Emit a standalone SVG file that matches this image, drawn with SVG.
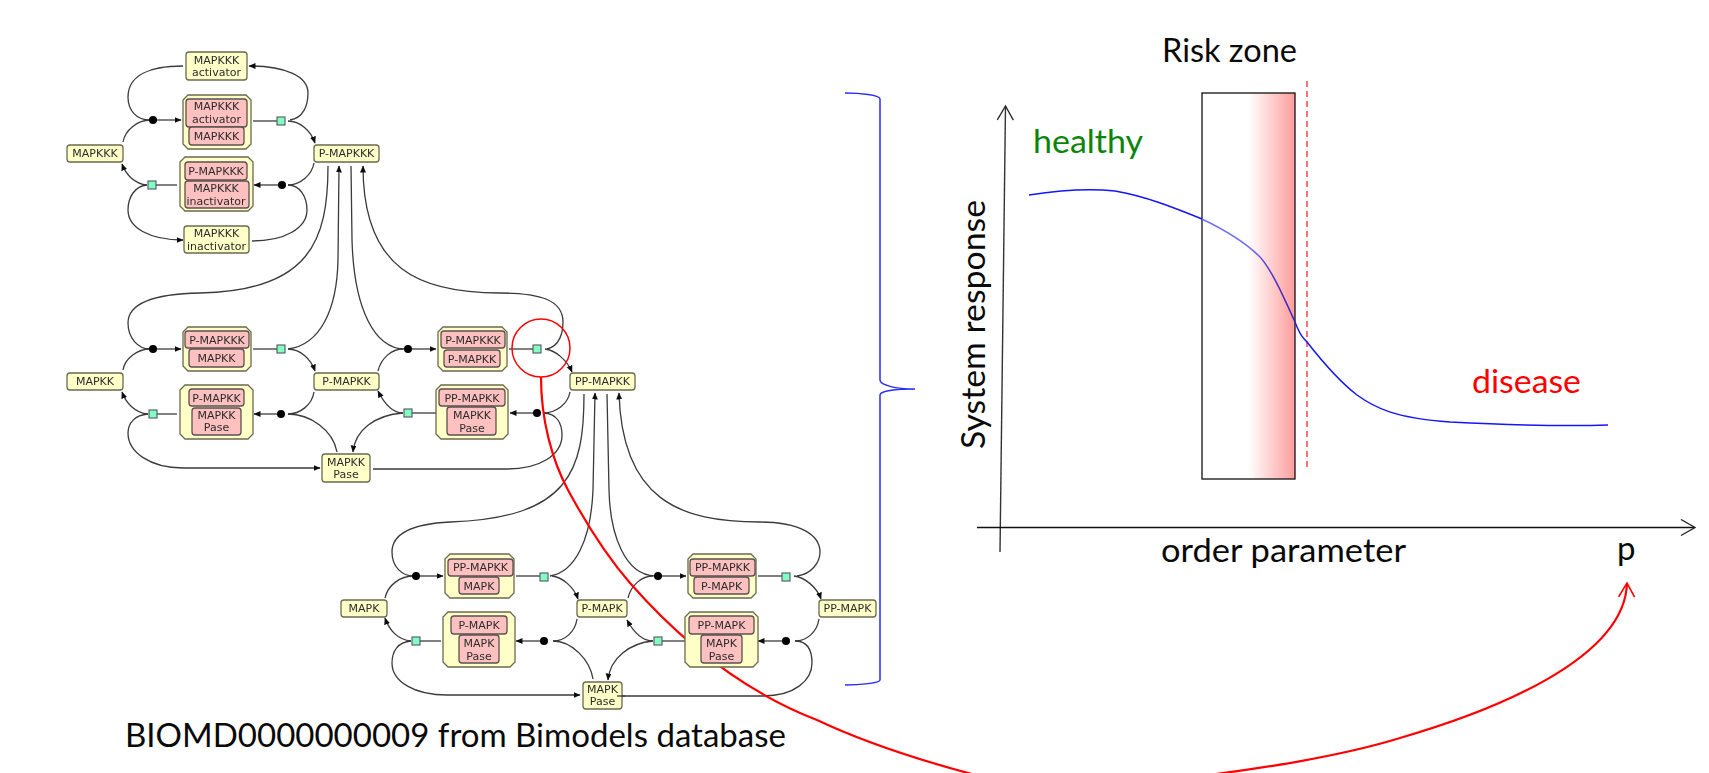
<svg xmlns="http://www.w3.org/2000/svg" width="1709" height="773" viewBox="0 0 1709 773">
<style>
.c{fill:none;stroke:#3a3a3a;stroke-width:1.3}
.a{marker-end:url(#ah)}
.n{fill:#ffffc8;stroke:#6a6a50;stroke-width:1.3}
.i{fill:#ffc0c0;stroke:#5a5050;stroke-width:1.3}
.s{fill:#80ffc0;stroke:#556;stroke-width:1.1}
.d{fill:#000}
.t{font-family:"DejaVu Sans",sans-serif;font-size:11px;fill:#2c2c2c;text-anchor:middle}
.b{font-family:Lato,"Open Sans",sans-serif;font-size:33px;fill:#0a0a0a}
</style>
<defs>
<marker id="ah" markerUnits="userSpaceOnUse" markerWidth="8" markerHeight="8" refX="6.5" refY="3" orient="auto"><path d="M0,0L7,3L0,6z" fill="#111"/></marker>
<marker id="oa" markerUnits="userSpaceOnUse" markerWidth="18" markerHeight="20" refX="15" refY="9" orient="auto"><path d="M1,1L15,9L1,17" fill="none" stroke="#222" stroke-width="1.3"/></marker>
<marker id="ra" markerUnits="userSpaceOnUse" markerWidth="18" markerHeight="20" refX="15" refY="9" orient="auto"><path d="M1,1L15,9L1,17" fill="none" stroke="#f00" stroke-width="1.6"/></marker>
<linearGradient id="rz" x1="0" x2="1" y1="0" y2="0"><stop offset="0" stop-color="#fff"/><stop offset=".5" stop-color="#fff"/><stop offset="1" stop-color="#ff9c9c"/></linearGradient>
<linearGradient id="bc" gradientUnits="userSpaceOnUse" x1="1029" x2="1608" y1="0" y2="0"><stop offset=".298" stop-color="#1414ff"/><stop offset=".3" stop-color="#7070ff"/><stop offset=".38" stop-color="#7070ff"/><stop offset=".425" stop-color="#5030c0"/><stop offset=".458" stop-color="#3020c0"/><stop offset=".48" stop-color="#1414ff"/></linearGradient>
<filter id="soft" x="-2%" y="-2%" width="104%" height="104%"><feGaussianBlur stdDeviation="0.35"/></filter>
</defs>

<g id="connectors" filter="url(#soft)">
<!-- block 1 -->
<path class="c" d="M183,66C150,66 128,75 128,97C128,110 136,120 150,120"/>
<path class="c" d="M123,142C125,130 138,120 150,120"/>
<path class="c a" d="M153,120H181"/>
<path class="c" d="M253,121H281"/>
<path class="c a" d="M288,121C300,121 311,131 315,143"/>
<path class="c a" d="M290,120C303,118 308,106 308,93C308,76 285,66 249,66"/>
<path class="c" d="M314,163C312,175 300,185 288,185"/>
<path class="c a" d="M282,185H254"/>
<path class="c" d="M252,241C285,241 307,228 307,210C307,197 300,185 288,185"/>
<path class="c" d="M177,185H152"/>
<path class="c a" d="M147,185C135,184 126,175 122,164"/>
<path class="c a" d="M147,185C135,186 128,197 128,210C128,228 150,240 183,240"/>
<!-- block 2 -->
<path class="c" d="M328,166C328,240 310,291 200,293C150,294 128,305 128,323C128,338 138,349 150,349"/>
<path class="c a" d="M288,349C320,345 337,310 338,260L339,166"/>
<path class="c" d="M351,166L352,240C354,310 375,349 405,349"/>
<path class="c a" d="M547,349C560,346 563,332 563,322C563,300 540,293 500,293C420,293 363,270 363,166"/>
<path class="c" d="M123,370C125,358 138,349 150,349"/>
<path class="c a" d="M153,349H181"/>
<path class="c" d="M253,349H281"/>
<path class="c a" d="M288,349C300,349 311,359 315,371"/>
<path class="c" d="M314,392C312,405 300,414 288,414"/>
<path class="c a" d="M281,414H254"/>
<path class="c" d="M337,452C333,430 310,414 288,414"/>
<path class="c" d="M177,414H153"/>
<path class="c a" d="M148,414C135,413 126,403 122,392"/>
<path class="c a" d="M148,414C135,415 128,423 128,433C128,452 150,468 183,468L320,468"/>
<path class="c" d="M378,371C381,358 392,349 403,349"/>
<path class="c a" d="M408,349H436"/>
<path class="c" d="M509,349H537"/>
<path class="c a" d="M545,349C555,350 567,360 572,372"/>
<path class="c" d="M570,392C568,404 556,413 543,413"/>
<path class="c a" d="M537,413H510"/>
<path class="c" d="M373,469H507C540,469 562,455 562,435C562,425 558,413 543,413"/>
<path class="c" d="M436,413H408"/>
<path class="c a" d="M403,413C392,413 384,403 378,391"/>
<path class="c a" d="M403,413C375,415 355,430 353,452"/>
<!-- block 3 -->
<path class="c" d="M584,394C584,470 570,518 450,522C410,524 392,535 392,552C392,567 402,576 414,576"/>
<path class="c a" d="M550,576C575,572 591,540 593,490L595,393"/>
<path class="c" d="M607,394L609,490C610,535 625,575 655,576"/>
<path class="c a" d="M797,576C812,574 820,562 820,552C820,535 800,522 760,522C680,522 622,500 619,393"/>
<path class="c" d="M385,598C388,585 400,576 414,576"/>
<path class="c a" d="M416,576H443"/>
<path class="c" d="M516,576H544"/>
<path class="c a" d="M552,576C562,577 574,587 578,599"/>
<path class="c" d="M577,619C575,632 565,641 553,641"/>
<path class="c a" d="M544,641H516"/>
<path class="c" d="M593,679C590,660 572,641 553,641"/>
<path class="c" d="M441,641H416"/>
<path class="c a" d="M411,641C398,640 389,630 385,618"/>
<path class="c a" d="M411,641C398,642 392,651 392,663C392,682 415,695 447,695L580,695"/>
<path class="c" d="M628,598C631,585 642,576 653,576"/>
<path class="c a" d="M658,576H686"/>
<path class="c" d="M758,576H786"/>
<path class="c a" d="M794,576C804,577 817,587 821,599"/>
<path class="c" d="M819,619C817,632 807,641 795,641"/>
<path class="c a" d="M786,641H758"/>
<path class="c" d="M617,696H763C795,696 812,680 812,663C812,650 807,641 795,641"/>
<path class="c" d="M685,641H658"/>
<path class="c a" d="M653,641C642,641 633,631 627,620"/>
<path class="c a" d="M653,641C630,643 610,658 608,680"/>
</g>

<path id="red-curve" d="M541,377C541,420 552,460 568,490C588,527 610,560 630,583C680,640 740,690 817,720C870,745 935,765 995,780C1060,797 1290,772 1400,738C1490,712 1625,660 1627,583" fill="none" stroke="#f00" stroke-width="2.2" marker-end="url(#ra)"/>

<g filter="url(#soft)">
<g id="n-activator"><rect class="n" x="186" y="52" width="61" height="28" rx="3"/><text class="t" x="216.500" y="64">MAPKKK</text><text class="t" x="216.500" y="76">activator</text></g>
<g id="c-1"><polygon class="n" points="188,95 246,95 251,100 251,144 246,149 188,149 183,144 183,100"/><rect class="i" x="186" y="99" width="61" height="28" rx="3"/><rect class="i" x="189" y="127" width="55" height="18" rx="3"/><text class="t" x="216.500" y="110">MAPKKK</text><text class="t" x="216.500" y="123">activator</text><text class="t" x="216.500" y="140">MAPKKK</text></g>
<g id="n-mapkkk"><rect class="n" x="67" y="145" width="56" height="17" rx="3"/><text class="t" x="95" y="157">MAPKKK</text></g>
<g id="n-pmapkkk"><rect class="n" x="314" y="145" width="65" height="17" rx="3"/><text class="t" x="346.500" y="157">P-MAPKKK</text></g>
<g id="c-2"><polygon class="n" points="185,157 248,157 253,162 253,206 248,211 185,211 180,206 180,162"/><rect class="i" x="185" y="162" width="62" height="18" rx="3"/><rect class="i" x="185" y="181" width="64" height="27" rx="3"/><text class="t" x="216" y="175">P-MAPKKK</text><text class="t" x="216" y="192">MAPKKK</text><text class="t" x="216" y="205">inactivator</text></g>
<g id="n-inactivator"><rect class="n" x="184" y="226" width="65" height="27" rx="3"/><text class="t" x="216.500" y="237">MAPKKK</text><text class="t" x="216.500" y="250">inactivator</text></g>

<g id="n-mapkk"><rect class="n" x="67" y="373" width="56" height="17" rx="3"/><text class="t" x="95" y="385">MAPKK</text></g>
<g id="n-pmapkk"><rect class="n" x="314" y="373" width="65" height="17" rx="3"/><text class="t" x="346.500" y="385">P-MAPKK</text></g>
<g id="c-3"><polygon class="n" points="188,327 246,327 251,332 251,366 246,371 188,371 183,366 183,332"/><rect class="i" x="185" y="331" width="64" height="17" rx="3"/><rect class="i" x="189" y="349" width="55" height="18" rx="3"/><text class="t" x="217" y="344">P-MAPKKK</text><text class="t" x="216.500" y="362">MAPKK</text></g>
<g id="c-4"><polygon class="n" points="185,385 248,385 253,390 253,434 248,439 185,439 180,434 180,390"/><rect class="i" x="189" y="389" width="55" height="17" rx="3"/><rect class="i" x="192" y="408" width="49" height="27" rx="3"/><text class="t" x="216.500" y="402">P-MAPKK</text><text class="t" x="216.500" y="419">MAPKK</text><text class="t" x="216.500" y="431">Pase</text></g>
<g id="n-mapkkpase"><rect class="n" x="322" y="454" width="48" height="28" rx="3"/><text class="t" x="346" y="466">MAPKK</text><text class="t" x="346" y="478">Pase</text></g>
<g id="c-5"><polygon class="n" points="443,327 502,327 507,332 507,366 502,371 443,371 438,366 438,332"/><rect class="i" x="441" y="331" width="64" height="17" rx="3"/><rect class="i" x="444" y="350" width="56" height="17" rx="3"/><text class="t" x="473" y="344">P-MAPKKK</text><text class="t" x="472" y="363">P-MAPKK</text></g>
<g id="c-6"><polygon class="n" points="441,385 503,385 508,390 508,434 503,439 441,439 436,434 436,390"/><rect class="i" x="439" y="389" width="66" height="17" rx="3"/><rect class="i" x="447" y="407" width="49" height="28" rx="3"/><text class="t" x="472" y="402">PP-MAPKK</text><text class="t" x="472" y="419">MAPKK</text><text class="t" x="472" y="432">Pase</text></g>
<g id="n-ppmapkk"><rect class="n" x="570" y="373" width="65" height="17" rx="3"/><text class="t" x="602.500" y="385">PP-MAPKK</text></g>

<g id="n-mapk"><rect class="n" x="341" y="600" width="46" height="17" rx="3"/><text class="t" x="364" y="612">MAPK</text></g>
<g id="c-7"><polygon class="n" points="450,554 509,554 514,559 514,593 509,598 450,598 445,593 445,559"/><rect class="i" x="448" y="559" width="65" height="17" rx="3"/><rect class="i" x="459" y="577" width="40" height="17" rx="3"/><text class="t" x="480.500" y="571">PP-MAPKK</text><text class="t" x="479" y="590">MAPK</text></g>
<g id="c-8"><polygon class="n" points="448,612 510,612 515,617 515,662 510,667 448,667 443,662 443,617"/><rect class="i" x="451" y="616" width="56" height="18" rx="3"/><rect class="i" x="459" y="635" width="40" height="28" rx="3"/><text class="t" x="479" y="629">P-MAPK</text><text class="t" x="479" y="647">MAPK</text><text class="t" x="479" y="660">Pase</text></g>
<g id="n-pmapk"><rect class="n" x="577" y="600" width="50" height="17" rx="3"/><text class="t" x="602" y="612">P-MAPK</text></g>
<g id="n-mapkpase"><rect class="n" x="583" y="682" width="39" height="27" rx="3"/><text class="t" x="602.500" y="693">MAPK</text><text class="t" x="602.500" y="705">Pase</text></g>
<path class="c" d="M617,696H625"/>
<g id="c-9"><polygon class="n" points="693,554 751,554 756,559 756,593 751,598 693,598 688,593 688,559"/><rect class="i" x="690" y="559" width="65" height="17" rx="3"/><rect class="i" x="694" y="577" width="55" height="17" rx="3"/><text class="t" x="722.500" y="571">PP-MAPKK</text><text class="t" x="721.500" y="590">P-MAPK</text></g>
<g id="c-10"><polygon class="n" points="690,612 753,612 758,617 758,662 753,667 690,667 685,662 685,617"/><rect class="i" x="689" y="616" width="65" height="18" rx="3"/><rect class="i" x="701" y="635" width="41" height="28" rx="3"/><text class="t" x="721.500" y="629">PP-MAPK</text><text class="t" x="721.500" y="647">MAPK</text><text class="t" x="721.500" y="660">Pase</text></g>
<g id="n-ppmapk"><rect class="n" x="819" y="600" width="57" height="17" rx="3"/><text class="t" x="847.500" y="612">PP-MAPK</text></g>

<g id="markers">
<circle class="d" cx="153" cy="120" r="4"/><rect class="s" x="277" y="117" width="8" height="8"/>
<circle class="d" cx="282" cy="185" r="4"/><rect class="s" x="148" y="181" width="8" height="8"/>
<circle class="d" cx="153" cy="349" r="4"/><rect class="s" x="277" y="345" width="8" height="8"/>
<circle class="d" cx="281" cy="414" r="4"/><rect class="s" x="149" y="410" width="8" height="8"/>
<circle class="d" cx="408" cy="349" r="4"/><rect class="s" x="533" y="345" width="8" height="8"/>
<circle class="d" cx="537" cy="413" r="4"/><rect class="s" x="404" y="409" width="8" height="8"/>
<circle class="d" cx="416" cy="576" r="4"/><rect class="s" x="540" y="573" width="8" height="8"/>
<circle class="d" cx="544" cy="641" r="4"/><rect class="s" x="412" y="637" width="8" height="8"/>
<circle class="d" cx="658" cy="576" r="4"/><rect class="s" x="782" y="573" width="8" height="8"/>
<circle class="d" cx="786" cy="641" r="4"/><rect class="s" x="654" y="637" width="8" height="8"/>
</g>
</g>

<circle id="red-circle" cx="541" cy="348" r="29" fill="none" stroke="#f00" stroke-width="1.5"/>
<path id="bracket" d="M845,93C860,93 880,95 880,99V380C880,385 895,389 915,389C895,389 880,391 880,395V680C880,683 860,685 845,685" fill="none" stroke="#2a2aff" stroke-width="1.5"/>

<text class="b" x="125" y="747" textLength="661" lengthAdjust="spacingAndGlyphs">BIOMD0000000009 from Bimodels database</text>

<g id="chart">
<rect x="1202" y="93" width="93" height="386" fill="url(#rz)" stroke="#111" stroke-width="1.3"/>
<path d="M1307,81V467" fill="none" stroke="#f44" stroke-width="1.5" stroke-dasharray="6 4"/>
<path d="M1029,195C1055,191 1085,188 1115,191C1145,196 1175,208 1202,219C1225,230 1245,242 1260,257C1272,270 1285,300 1295,322C1300,335 1303,338 1307,342C1325,365 1340,382 1357,395C1375,408 1395,418 1450,422C1490,424 1550,427 1608,425" fill="none" stroke="url(#bc)" stroke-width="1.5"/>
<path d="M1000,552L1005.500,106" fill="none" stroke="#333" stroke-width="1.4" marker-end="url(#oa)"/>
<path d="M977,527.500H1695" fill="none" stroke="#111" stroke-width="1.4" marker-end="url(#oa)"/>
<text class="b" x="1162" y="62" textLength="135" lengthAdjust="spacingAndGlyphs">Risk zone</text>
<text class="b" x="1033" y="153" textLength="110" lengthAdjust="spacingAndGlyphs" style="fill:#0a850a">healthy</text>
<text class="b" x="1472" y="393" textLength="109" lengthAdjust="spacingAndGlyphs" style="fill:#f00">disease</text>
<text class="b" x="1161" y="562" textLength="245" lengthAdjust="spacingAndGlyphs">order parameter</text>
<text class="b" x="1617" y="560">p</text>
<text class="b" transform="translate(985,449) rotate(-90)" textLength="249" lengthAdjust="spacingAndGlyphs">System response</text>
</g>
</svg>
